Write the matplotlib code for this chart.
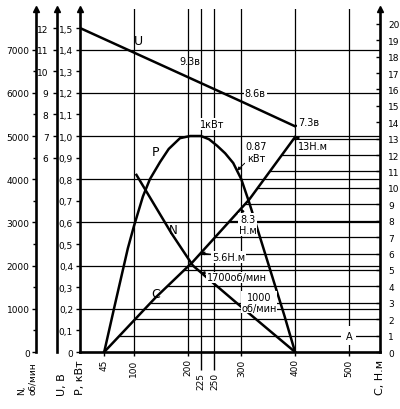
import numpy as np
import matplotlib.pyplot as plt
from matplotlib.ticker import FixedLocator, FixedFormatter

# current, A (x axis)
i_ticks = [45, 100, 200, 300, 400, 500]
i_ticks_low = [225, 250]
i_grid = [100, 200, 225, 250, 300, 400, 500]

# power P, kW
p_i = [45, 65, 89, 100, 117, 130, 149, 165, 186, 205, 225,
       240, 255, 270, 285, 300, 315, 335, 355, 380, 400]
p_val = [0, 0.22, 0.48, 0.58, 0.72, 0.80, 0.88, 0.94, 0.99, 1.0, 1.0,
         0.985, 0.955, 0.92, 0.875, 0.80, 0.69, 0.53, 0.37, 0.17, 0]

# speed N, rpm
n_i = [105, 170, 210, 290, 400]
n_val = [4100, 2750, 2000, 1150, 0]

# voltage U, V
u_i = [0, 225, 300, 400]
u_val = [12, 9.45, 8.6, 7.45]

# torque C, N*m
c_i = [45, 140, 210, 315, 400]
c_val = [0, 3.3, 5.5, 9.3, 13.1]

p_grid = [0.2, 0.4, 0.6, 0.8, 1.0, 1.2, 1.4]
c_grid = list(range(1, 14))

p_ticks = [round(0.1 * k, 1) for k in range(16)]
n_ticks = [0, 1000, 2000, 3000, 4000, 5000, 6000, 7000]
u_ticks = [6, 7, 8, 9, 10, 11, 12]
c_ticks = list(range(21))

plt.rcParams['font.family'] = ['DejaVu Sans']
fig = plt.figure(figsize=(4.0, 4.1), dpi=100)
ax = fig.add_axes([0.2, 0.139, 0.75, 0.8366])
axN = ax.twinx()
axU = ax.twinx()
axC = ax.twinx()

XMAX = 558
PMAX = 1.588
ax.set_xlim(0, XMAX)
ax.set_ylim(0, PMAX)
axN.set_ylim(0, 5000 * PMAX)
axU.set_ylim(-3, 10 * PMAX - 3)
axC.set_ylim(0, 20.9)

lw_sp = 1.9
for a in (ax, axN, axU, axC):
    for s in a.spines.values():
        s.set_visible(False)
        s.set_linewidth(lw_sp)

ax.spines['left'].set_visible(True)
ax.spines['bottom'].set_visible(True)
axN.spines['left'].set_visible(True)
axN.spines['left'].set_position(('axes', -0.147))
axU.spines['left'].set_visible(True)
axU.spines['left'].set_position(('axes', -0.077))
axC.spines['right'].set_visible(True)

for a in (axN, axU):
    a.yaxis.set_ticks_position('left')
    a.yaxis.set_label_position('left')

fs = 6.5
ax.set_yticks(p_ticks)
ax.set_yticklabels([('0' if v == 0 else f'{v:.1f}'.replace('.', ',')) for v in p_ticks])
ax.tick_params(axis='y', labelsize=fs, length=3, width=1, pad=2)

axN.set_yticks(n_ticks)
axN.set_yticklabels([str(v) for v in n_ticks])
axN.yaxis.set_minor_locator(FixedLocator([500 * k for k in range(1, 15, 2)]))
axN.tick_params(axis='y', labelsize=fs, length=3, width=1, pad=1.5)
axN.tick_params(axis='y', which='minor', length=2, width=1)

axU.set_yticks(u_ticks)
axU.set_yticklabels([str(v) for v in u_ticks])
axU.tick_params(axis='y', labelsize=fs, length=3, width=1, pad=3)

axC.set_yticks(c_ticks)
axC.set_yticklabels([str(v) for v in c_ticks])
axC.tick_params(axis='y', labelsize=fs, length=3, width=1, pad=6, direction='in')

ax.set_xticks(i_ticks)
ax.set_xticklabels([str(v) for v in i_ticks], rotation=90)
ax.xaxis.set_minor_locator(FixedLocator(i_ticks_low))
ax.xaxis.set_minor_formatter(FixedFormatter([str(v) for v in i_ticks_low]))
ax.tick_params(axis='x', labelsize=fs, length=3, width=1, pad=1.5)
ax.tick_params(axis='x', which='minor', labelsize=fs, length=13, width=1, pad=1.5,
               labelrotation=90)

# arrows on top of axes
for xa in (-0.147, -0.077, 0.0, 1.0):
    ax.plot([xa], [1.0], marker='^', color='black', markersize=5,
            transform=ax.transAxes, clip_on=False)

# grid
glw = 0.9
for v in i_grid:
    ax.axvline(v, color='black', lw=glw)
for v in p_grid:
    ax.axhline(v, color='black', lw=glw)
for k in c_grid:
    x0 = np.interp(k, c_val, c_i)
    axC.plot([x0, XMAX], [k, k], color='black', lw=glw)

clw = 1.8
ax.plot(p_i, p_val, color='black', lw=clw, solid_joinstyle='round')
axN.plot(n_i, n_val, color='black', lw=clw, solid_joinstyle='round')
axU.plot(u_i, u_val, color='black', lw=clw, solid_joinstyle='round')
axC.plot(c_i, c_val, color='black', lw=clw, solid_joinstyle='round')

tr = ax.transData
bb = dict(fc='white', ec='none', pad=0.6)
arr = dict(arrowstyle='-|>', lw=0.7, color='black', shrinkA=0, shrinkB=0,
           mutation_scale=5)

axC.text(108, 1.44, 'U', transform=tr, fontsize=9, ha='center', va='center')
axC.text(140, 0.93, 'P', transform=tr, fontsize=9, ha='center', va='center')
axC.text(173, 0.565, 'N', transform=tr, fontsize=8.5, ha='center', va='center')
axC.text(140, 0.27, 'C', transform=tr, fontsize=9, ha='center', va='center')

axC.text(205, 1.345, '9.3в', transform=tr, fontsize=7, ha='center', va='center')
axC.text(326, 1.2, '8.6в', transform=tr, fontsize=7, ha='center', va='center', bbox=bb)
axC.text(224, 1.056, '1кВт', transform=tr, fontsize=7, ha='left', va='center', bbox=bb)
axC.annotate('7.3в', xy=(400, u_val[-1]), xycoords=axU.transData,
             xytext=(405, 1.065), textcoords=tr, fontsize=7, ha='left', va='center',
             bbox=bb, arrowprops=arr)
axC.annotate('13Н.м', xy=(400, c_val[-1]), xycoords=axC.transData,
             xytext=(405, 0.955), textcoords=tr, fontsize=7, ha='left', va='center',
             bbox=bb, arrowprops=arr)
axC.annotate('0.87\nкВт', xy=(292, 0.84), xycoords=tr,
             xytext=(328, 0.925), textcoords=tr, fontsize=7, ha='center', va='center',
             bbox=bb, arrowprops=arr)
axC.annotate('8.3\nН.м', xy=(300, np.interp(300, c_i, c_val)), xycoords=axC.transData,
             xytext=(312, 0.59), textcoords=tr, fontsize=7, ha='center', va='center',
             bbox=bb, arrowprops=arr)
axC.annotate('5.6Н.м', xy=(225, np.interp(225, c_i, c_val)), xycoords=axC.transData,
             xytext=(246, 0.44), textcoords=tr, fontsize=7, ha='left', va='center',
             bbox=bb, arrowprops=arr)
axC.annotate('1700об/мин', xy=(225, np.interp(225, n_i, n_val)), xycoords=axN.transData,
             xytext=(236, 0.345), textcoords=tr, fontsize=7, ha='left', va='center',
             bbox=bb, arrowprops=arr)
axC.annotate('1000\nоб/мин', xy=(300, np.interp(300, n_i, n_val)), xycoords=axN.transData,
             xytext=(333, 0.23), textcoords=tr, fontsize=7, ha='center', va='center',
             bbox=dict(fc='white', ec='none', pad=0.2), arrowprops=arr)
axC.text(500, 1, 'A', transform=axC.transData, fontsize=7, ha='center', va='center',
         bbox=dict(fc='white', ec='none', pad=3))

fig.text(0.0675, 0.117, 'N,\nоб/мин', rotation=90, ha='center', va='top',
         fontsize=6.5, multialignment='left')
fig.text(0.155, 0.09, 'U, B', rotation=90, ha='center', va='top', fontsize=8)
fig.text(0.2, 0.122, 'P, кВт', rotation=90, ha='center', va='top', fontsize=8)
fig.text(0.95, 0.122, 'C, Н.м', rotation=90, ha='center', va='top', fontsize=8)

fig.savefig('out.png', dpi=100)
